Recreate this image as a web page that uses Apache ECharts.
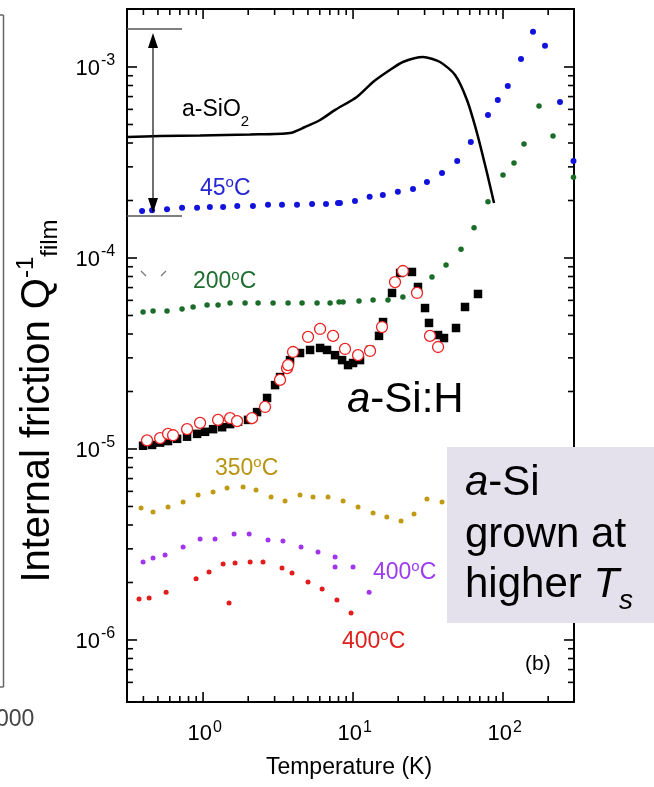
<!DOCTYPE html>
<html><head><meta charset="utf-8">
<script src="https://cdn.jsdelivr.net/npm/echarts@6/dist/echarts.min.js"></script>
<style>html,body{margin:0;padding:0;background:#fff;}#c{width:654px;height:787px;}</style>
</head><body><div id="c"></div>
<script>
const FF = "'Liberation Sans', Arial, Helvetica, sans-serif";
// axis ranges
const X_MIN = 0.311, X_MAX = 297.4, Y_MIN = 4.735e-7, Y_MAX = 2.012e-3;
// tick values and labels
const X_MAJOR = [1, 10, 100];
const X_MAJOR_EXP = ['0', '1', '2'];
const X_MINOR = [0.4,0.5,0.6,0.7,0.8,0.9,2,3,4,5,6,7,8,9,20,30,40,50,60,70,80,90,200];
const Y_MAJOR = [1e-6, 1e-5, 1e-4, 1e-3];
const Y_MAJOR_EXP = ['-6', '-5', '-4', '-3'];
const Y_MINOR = [6e-7,7e-7,8e-7,9e-7,2e-6,3e-6,4e-6,5e-6,6e-6,7e-6,8e-6,9e-6,
  2e-5,3e-5,4e-5,5e-5,6e-5,7e-5,8e-5,9e-5,2e-4,3e-4,4e-4,5e-4,6e-4,7e-4,8e-4,9e-4];

// a-SiO2 (solid line)
const sio2T = [0.311,0.517,0.955,2.06,3.80,4.78,6.03,7.59,10.6,13.6,17.6,21.5,29.3,38.0,47.9,57.5,67.1,78.2,87.1];
const sio2Q = [4.30e-4,4.35e-4,4.38e-4,4.43e-4,4.51e-4,4.85e-4,5.28e-4,5.96e-4,6.97e-4,8.35e-4,9.64e-4,1.062e-3,1.128e-3,1.062e-3,9.08e-4,6.72e-4,4.51e-4,2.79e-4,1.94e-4];
// 45 C (blue)
const blueT = [0.392,0.457,0.575,0.724,0.912,1.11,1.36,1.69,2.15,2.71,3.36,4.23,5.33,6.6,7.94,8.18,10.3,12.9,15.8,19.9,25.1,31.1,39.2,49.5,61.0,79.4,92.3,107.6,131.8,158.5,190.5,239.9,295];
const blueQ = [1.76e-4,1.78e-4,1.80e-4,1.83e-4,1.83e-4,1.85e-4,1.85e-4,1.87e-4,1.87e-4,1.90e-4,1.90e-4,1.90e-4,1.92e-4,1.92e-4,1.94e-4,1.94e-4,1.99e-4,2.09e-4,2.14e-4,2.22e-4,2.30e-4,2.50e-4,2.79e-4,3.22e-4,4.05e-4,5.61e-4,6.72e-4,7.95e-4,1.10e-3,1.53e-3,1.29e-3,6.56e-4,3.22e-4];
// 200 C (green)
const greenT = [0.398,0.464,0.575,0.724,0.858,1.063,1.259,1.514,1.905,2.326,2.929,3.687,4.571,5.754,7.03,8.07,8.58,10.96,13.6,17.1,21.5,26.7,33.6,41.7,52.5,64.1,79.4,100,118.4,138,173.8,215.4,295];
const greenQ = [5.21e-5,5.28e-5,5.28e-5,5.41e-5,5.54e-5,5.68e-5,5.68e-5,5.81e-5,5.81e-5,5.81e-5,5.81e-5,5.81e-5,5.81e-5,5.81e-5,5.81e-5,5.88e-5,5.88e-5,5.95e-5,6.03e-5,6.03e-5,6.25e-5,6.97e-5,7.95e-5,9.19e-5,1.11e-4,1.44e-4,1.97e-4,2.72e-4,3.14e-4,3.95e-4,6.25e-4,4.35e-4,2.65e-4];
// 350 C (olive)
const oliveT = [0.386,0.464,0.584,0.736,0.926,1.166,1.445,1.848,2.256,2.84,3.52,4.43,5.41,6.81,8.58,10.8,13.6,16.8,20.9,25.5,31.1,39.2];
const oliveQ = [4.91e-6,4.68e-6,4.97e-6,5.28e-6,5.74e-6,5.96e-6,6.25e-6,6.32e-6,6.10e-6,5.61e-6,5.34e-6,5.74e-6,5.61e-6,5.61e-6,5.34e-6,4.97e-6,4.62e-6,4.41e-6,4.20e-6,4.57e-6,5.47e-6,5.28e-6];
// 400 C (purple)
const purpleT = [0.398,0.464,0.558,0.736,0.955,1.202,1.61,2.03,2.71,3.41,4.5,5.84,7.59,7.59,10.0,12.8];
const purpleQ = [2.56e-6,2.69e-6,2.79e-6,3.07e-6,3.38e-6,3.38e-6,3.59e-6,3.59e-6,3.34e-6,3.30e-6,3.07e-6,2.89e-6,2.72e-6,2.41e-6,2.41e-6,1.78e-6];
// 400 C (red)
const redT = [0.374,0.437,0.567,0.898,1.096,1.36,1.49,1.634,2.06,2.51,3.36,3.92,5.01,6.22,7.81,9.70];
const redQ = [1.64e-6,1.66e-6,1.78e-6,2.09e-6,2.27e-6,2.50e-6,1.56e-6,2.53e-6,2.56e-6,2.56e-6,2.38e-6,2.24e-6,2.01e-6,1.85e-6,1.62e-6,1.385e-6];
// a-Si:H (black squares)
const sqT = [0.398,0.457,0.517,0.584,0.671,0.782,0.912,1.031,1.166,1.339,1.514,1.711,1.995,2.291,2.672,3.02,3.26,3.80,4.43,5.17,6.03,6.71,7.59,8.45,9.26,10.0,11.13,12.98,14.9,15.85,18.2,20.6,24.7,27.1,30.2,32.1,36.9,40.4,48.6,55.8,68.1];
const sqQ = [1.04e-5,1.05e-5,1.08e-5,1.10e-5,1.13e-5,1.16e-5,1.20e-5,1.23e-5,1.27e-5,1.30e-5,1.35e-5,1.39e-5,1.42e-5,1.56e-5,1.85e-5,2.16e-5,2.38e-5,2.92e-5,3.18e-5,3.30e-5,3.38e-5,3.30e-5,3.10e-5,2.92e-5,2.75e-5,2.82e-5,2.92e-5,3.30e-5,3.91e-5,4.62e-5,6.56e-5,8.35e-5,8.45e-5,7.05e-5,5.47e-5,4.57e-5,3.95e-5,3.81e-5,4.30e-5,5.54e-5,6.48e-5];
// a-Si:H (open red circles)
const ocT = [0.423,0.517,0.584,0.631,0.782,0.955,1.259,1.514,1.685,2.121,2.59,3.26,3.63,3.69,3.98,5.01,6.03,7.36,8.84,10.8,12.98,15.6,19.05,21.5,26.7,32.6,36.9];
const ocQ = [1.11e-5,1.14e-5,1.20e-5,1.18e-5,1.27e-5,1.37e-5,1.42e-5,1.45e-5,1.40e-5,1.45e-5,1.66e-5,2.30e-5,2.65e-5,2.75e-5,3.22e-5,3.86e-5,4.25e-5,3.91e-5,3.34e-5,3.10e-5,3.26e-5,4.35e-5,7.48e-5,8.55e-5,6.56e-5,3.91e-5,3.42e-5];

const zip = (a, b) => a.map((v, i) => [v, b[i]]);

const xTickData = X_MAJOR.map((v, i) => [v, Y_MIN, 1, i]).concat(X_MINOR.map(v => [v, Y_MIN, 0, -1]));
const yTickData = Y_MAJOR.map((v, i) => [X_MIN, v, 1, i]).concat(Y_MINOR.map(v => [X_MIN, v, 0, -1]));
const TL = {stroke: '#000', lineWidth: 1.6};

function xTickItem(params, api) {
  const v = api.value(0), major = api.value(2) === 1, idx = api.value(3);
  const b = api.coord([v, Y_MIN]), t = api.coord([v, Y_MAX]);
  const L = major ? 10 : 6;
  const ch = [
    {type: 'line', shape: {x1: b[0], y1: b[1], x2: b[0], y2: b[1] - L}, style: TL},
    {type: 'line', shape: {x1: t[0], y1: t[1], x2: t[0], y2: t[1] + L}, style: TL}
  ];
  if (major) {
    ch.push({type: 'text', x: b[0] + 9, y: b[1] + 32, style: {text: '10', font: '22px ' + FF, fill: '#000', align: 'right', verticalAlign: 'middle'}});
    ch.push({type: 'text', x: b[0] + 10, y: b[1] + 25.5, style: {text: X_MAJOR_EXP[idx], font: '16px ' + FF, fill: '#000', align: 'left', verticalAlign: 'middle'}});
  }
  return {type: 'group', children: ch};
}
function yTickItem(params, api) {
  const v = api.value(1), major = api.value(2) === 1, idx = api.value(3);
  const l = api.coord([X_MIN, v]), r = api.coord([X_MAX, v]);
  const L = major ? 10 : 6;
  const ch = [
    {type: 'line', shape: {x1: l[0], y1: l[1], x2: l[0] + L, y2: l[1]}, style: TL},
    {type: 'line', shape: {x1: r[0], y1: r[1], x2: r[0] - L, y2: r[1]}, style: TL}
  ];
  if (major) {
    ch.push({type: 'text', x: l[0] - 27, y: l[1] + 2, style: {text: '10', font: '22px ' + FF, fill: '#000', align: 'right', verticalAlign: 'middle'}});
    ch.push({type: 'text', x: l[0] - 26, y: l[1] - 6, style: {text: Y_MAJOR_EXP[idx], font: '16px ' + FF, fill: '#000', align: 'left', verticalAlign: 'middle'}});
  }
  return {type: 'group', children: ch};
}

function dots(name, T, Q, color, size) {
  return {name, type: 'scatter', data: zip(T, Q), symbol: 'circle', symbolSize: size,
    itemStyle: {color, opacity: 1}, clip: false, z: 3, silent: true};
}
const degRich = (fill) => ({
  n: {font: '23px ' + FF, lineHeight: 27, fill},
  s: {font: '15px ' + FF, lineHeight: 15, verticalAlign: 'top', fill}
});
function label(txt, x, y, fill) {
  return {type: 'text', x, y, z: 60, style: {text: txt, fill, align: 'left', verticalAlign: 'middle', rich: degRich(fill)}};
}

const chart = echarts.init(document.getElementById('c'), null, {renderer: 'canvas'});
chart.setOption({
  animation: false,
  backgroundColor: '#fff',
  grid: {left: 127, top: 9, width: 447, height: 693, show: true, borderColor: '#000', borderWidth: 2, backgroundColor: 'transparent'},
  xAxis: {type: 'log', logBase: 10, min: X_MIN, max: X_MAX, axisLine: {show: false}, axisTick: {show: false}, axisLabel: {show: false}, splitLine: {show: false}},
  yAxis: {type: 'log', logBase: 10, min: Y_MIN, max: Y_MAX, axisLine: {show: false}, axisTick: {show: false}, axisLabel: {show: false}, splitLine: {show: false}},
  series: [
    {name: 'a-SiO2', type: 'line', data: zip(sio2T, sio2Q), smooth: 0.25, showSymbol: false, symbol: 'none',
      lineStyle: {color: '#000', width: 2.5}, z: 2, silent: true},
    dots('45C', blueT, blueQ, '#1212dd', 6),
    dots('200C', greenT, greenQ, '#1a6c28', 5.5),
    dots('350C', oliveT, oliveQ, '#bf9a12', 5),
    dots('400C-p', purpleT, purpleQ, '#a035ee', 5),
    dots('400C-r', redT, redQ, '#e41b1b', 5),
    {name: 'a-Si:H sq', type: 'scatter', data: zip(sqT, sqQ), symbol: 'rect', symbolSize: 8.5,
      itemStyle: {color: '#000', opacity: 1}, clip: false, z: 4, silent: true},
    {name: 'a-Si:H oc', type: 'scatter', data: zip(ocT, ocQ), symbol: 'circle', symbolSize: 11,
      itemStyle: {color: '#fff', borderColor: '#ec2222', borderWidth: 1.3, opacity: 1}, clip: false, z: 5, silent: true},
    {type: 'custom', data: xTickData, encode: {x: 0, y: 1}, renderItem: xTickItem, clip: false, z: 10, silent: true},
    {type: 'custom', data: yTickData, encode: {x: 0, y: 1}, renderItem: yTickItem, clip: false, z: 10, silent: true}
  ],
  graphic: [
    // neighbouring panel remnants
    {type: 'line', shape: {x1: 3.5, y1: 15, x2: 3.5, y2: 687}, style: {stroke: '#666', lineWidth: 1.5}},
    {type: 'line', shape: {x1: 0, y1: 15, x2: 3.5, y2: 15}, style: {stroke: '#666', lineWidth: 1.5}},
    {type: 'line', shape: {x1: 0, y1: 687, x2: 3.5, y2: 687}, style: {stroke: '#666', lineWidth: 1.5}},
    {type: 'text', x: -4, y: 720, style: {text: '000', font: '23px ' + FF, fill: '#444', align: 'left', verticalAlign: 'middle'}},
    // y axis title
    {type: 'text', x: 38, y: 401, rotation: Math.PI / 2, z: 60,
      style: {text: '{m|Internal friction Q}{p|-1}{b|film}', fill: '#000', align: 'center', verticalAlign: 'middle',
        rich: {m: {font: '40px ' + FF, lineHeight: 48}, p: {font: '24px ' + FF, lineHeight: 24, verticalAlign: 'top'}, b: {font: '24px ' + FF, lineHeight: 24, verticalAlign: 'bottom'}}}},
    // x axis title
    {type: 'text', x: 349, y: 768, style: {text: 'Temperature (K)', font: '23px ' + FF, fill: '#000', align: 'center', verticalAlign: 'middle'}},
    // arrow annotation
    {type: 'line', shape: {x1: 127, y1: 29, x2: 182, y2: 29}, style: {stroke: '#555', lineWidth: 1.5}, z: 60},
    {type: 'line', shape: {x1: 127, y1: 216, x2: 182, y2: 216}, style: {stroke: '#555', lineWidth: 1.5}, z: 60},
    {type: 'line', shape: {x1: 153, y1: 40, x2: 153, y2: 206}, style: {stroke: '#222', lineWidth: 1.3}, z: 60},
    {type: 'polygon', shape: {points: [[153, 33], [148, 48], [158, 48]]}, style: {fill: '#000'}, z: 60},
    {type: 'polygon', shape: {points: [[153, 213], [148, 198], [158, 198]]}, style: {fill: '#000'}, z: 60},
    {type: 'line', shape: {x1: 141, y1: 271, x2: 146, y2: 276}, style: {stroke: '#777', lineWidth: 1.2}, z: 60},
    {type: 'line', shape: {x1: 166, y1: 271, x2: 161, y2: 276}, style: {stroke: '#777', lineWidth: 1.2}, z: 60},
    // curve labels
    {type: 'text', x: 182, y: 110, z: 60, style: {text: '{n|a-SiO}{s|2}', fill: '#000', align: 'left', verticalAlign: 'middle',
      rich: {n: {font: '23px ' + FF, lineHeight: 38}, s: {font: '15px ' + FF, lineHeight: 15, verticalAlign: 'bottom'}}}},
    label('{n|45}{s|o}{n|C}', 200, 189, '#2626d4'),
    label('{n|200}{s|o}{n|C}', 193, 282, '#1f6e2e'),
    label('{n|350}{s|o}{n|C}', 215, 469, '#b8940f'),
    label('{n|400}{s|o}{n|C}', 373, 573, '#9b3cf0'),
    label('{n|400}{s|o}{n|C}', 342, 642, '#e0201c'),
    {type: 'text', x: 347, y: 400, z: 60, style: {text: '{i|a}{n|-Si:H}', fill: '#000', align: 'left', verticalAlign: 'middle',
      rich: {i: {font: 'italic 42px ' + FF}, n: {font: '42px ' + FF}}}},
    {type: 'text', x: 525, y: 664, z: 60, style: {text: '(b)', font: '21px ' + FF, fill: '#000', align: 'left', verticalAlign: 'middle'}},
    // shaded box
    {type: 'rect', shape: {x: 447, y: 447, width: 207, height: 176}, style: {fill: '#e4e0ec'}, z: 70},
    {type: 'text', x: 465, y: 483, z: 71, style: {text: '{i|a}{n|-Si}', fill: '#000', align: 'left', verticalAlign: 'middle',
      rich: {i: {font: 'italic 42px ' + FF}, n: {font: '42px ' + FF}}}},
    {type: 'text', x: 465, y: 535, z: 71, style: {text: 'grown at', font: '42px ' + FF, fill: '#000', align: 'left', verticalAlign: 'middle'}},
    {type: 'text', x: 465, y: 585, z: 71, style: {text: '{n|higher }{i|T}{s|s}', fill: '#000', align: 'left', verticalAlign: 'middle',
      rich: {n: {font: '42px ' + FF, lineHeight: 60}, i: {font: 'italic 42px ' + FF, lineHeight: 60}, s: {font: 'italic 28px ' + FF, lineHeight: 28, verticalAlign: 'bottom'}}}}
  ]
});
</script>
</body></html>
